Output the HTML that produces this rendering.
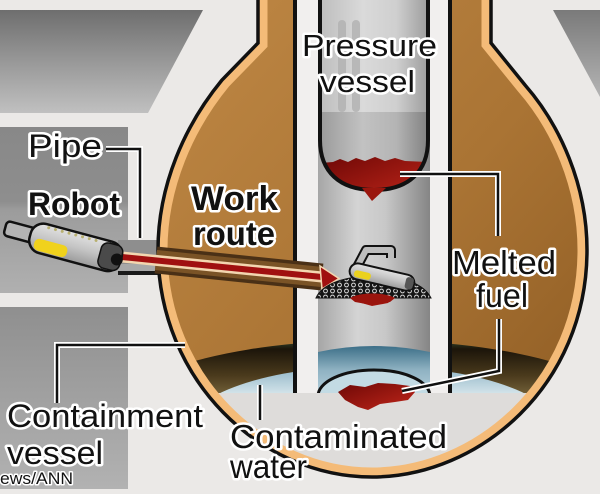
<!DOCTYPE html>
<html><head><meta charset="utf-8">
<style>
html,body{margin:0;padding:0;background:#ebe9e7;width:600px;height:494px;overflow:hidden;}
svg{display:block;}
text{font-family:"Liberation Sans",Arial,sans-serif;fill:#111;stroke:#fff;stroke-width:5;paint-order:stroke;stroke-linejoin:round;}
</style></head><body>
<svg width="600" height="494" viewBox="0 0 600 494" xmlns="http://www.w3.org/2000/svg">
<defs>
 <linearGradient id="gTop" x1="0" y1="0" x2="0" y2="1">
  <stop offset="0" stop-color="#6e6e6e"/><stop offset="0.5" stop-color="#989898"/><stop offset="1" stop-color="#c0c0c0"/>
 </linearGradient>
 <linearGradient id="gMid" x1="0" y1="0" x2="0" y2="1">
  <stop offset="0" stop-color="#888"/><stop offset="0.45" stop-color="#8e8e8e"/><stop offset="0.5" stop-color="#9c9c9c"/><stop offset="1" stop-color="#b0b0b0"/>
 </linearGradient>
 <linearGradient id="gBot" x1="0" y1="0" x2="0" y2="1">
  <stop offset="0" stop-color="#8f8f8f"/><stop offset="1" stop-color="#b2b2b2"/>
 </linearGradient>
 <linearGradient id="gTR" x1="0" y1="0" x2="0" y2="1">
  <stop offset="0" stop-color="#7a7a7a"/><stop offset="1" stop-color="#b4b4b4"/>
 </linearGradient>
 <linearGradient id="gBrown" x1="0" y1="0" x2="1" y2="1">
  <stop offset="0" stop-color="#c08946"/><stop offset="0.55" stop-color="#aa7434"/><stop offset="1" stop-color="#8c5a22"/>
 </linearGradient>
 <linearGradient id="gDark" x1="0" y1="338" x2="0" y2="400" gradientUnits="userSpaceOnUse">
  <stop offset="0" stop-color="#3a5233"/><stop offset="0.18" stop-color="#1c150a"/><stop offset="0.6" stop-color="#4a3a1c"/><stop offset="1" stop-color="#7d6a40"/>
 </linearGradient>
 <linearGradient id="gBlue" x1="0" y1="366" x2="0" y2="394" gradientUnits="userSpaceOnUse">
  <stop offset="0" stop-color="#8db3c5"/><stop offset="1" stop-color="#d4e4ea"/>
 </linearGradient>
 <linearGradient id="gCol" x1="318" y1="0" x2="430" y2="0" gradientUnits="userSpaceOnUse">
  <stop offset="0" stop-color="#a6a6a6"/><stop offset="0.35" stop-color="#d4d4d4"/><stop offset="0.6" stop-color="#c8c8c8"/><stop offset="1" stop-color="#858585"/>
 </linearGradient>
 <linearGradient id="gCapTop" x1="318" y1="0" x2="430" y2="0" gradientUnits="userSpaceOnUse">
  <stop offset="0" stop-color="#bcbcbc"/><stop offset="0.4" stop-color="#dadada"/><stop offset="0.7" stop-color="#cfcfcf"/><stop offset="1" stop-color="#9a9a9a"/>
 </linearGradient>
 <linearGradient id="gCapBot" x1="318" y1="0" x2="430" y2="0" gradientUnits="userSpaceOnUse">
  <stop offset="0" stop-color="#999"/><stop offset="0.4" stop-color="#c2c2c2"/><stop offset="0.7" stop-color="#b4b4b4"/><stop offset="1" stop-color="#7e7e7e"/>
 </linearGradient>
 <linearGradient id="gColWater" x1="0" y1="346" x2="0" y2="394" gradientUnits="userSpaceOnUse">
  <stop offset="0" stop-color="#3c6f88"/><stop offset="0.5" stop-color="#8fb2c2"/><stop offset="1" stop-color="#b5cfda"/>
 </linearGradient>
 <linearGradient id="gFuel" x1="0" y1="0" x2="1" y2="1">
  <stop offset="0" stop-color="#6e0806"/><stop offset="1" stop-color="#c0261a"/>
 </linearGradient>
 <linearGradient id="gRobot" x1="0" y1="0" x2="0" y2="1">
  <stop offset="0" stop-color="#e2e2e2"/><stop offset="0.5" stop-color="#c4c4c4"/><stop offset="1" stop-color="#9a9a9a"/>
 </linearGradient>
 <clipPath id="bulbClip"><path d="M258,-20 L258,43 L222,80 C185,125 158,185 158,250 C158,380 260,477 372,477 C480,477 587,385 587,250 C587,185 560,125 525,85 L491,43 L491,-20 Z"/></clipPath>
 <clipPath id="capClip"><path d="M320,-5 V140 C320,172 340,190 374,190 C408,190 428,172 428,140 V-5 Z"/></clipPath>
 <pattern id="dots" width="7" height="6" patternUnits="userSpaceOnUse">
  <rect width="7" height="6" fill="#151515"/><circle cx="3.5" cy="3" r="1.9" fill="none" stroke="#d8d8d8" stroke-width="1"/>
 </pattern>
</defs>

<rect width="600" height="494" fill="#ebe9e7"/>
<!-- grey boxes -->
<polygon points="0,10 203,10 148,113 0,113" fill="url(#gTop)"/>
<rect x="0" y="127" width="128" height="166" fill="url(#gMid)"/>
<rect x="0" y="307" width="128" height="182" fill="url(#gBot)"/>
<polygon points="553,10 600,10 600,97" fill="url(#gTR)"/>

<!-- pipe -->
<rect x="118" y="240" width="44" height="35" fill="#8e8e8e"/>
<rect x="118" y="264" width="44" height="8" fill="#a8a8a8"/>
<rect x="118" y="271" width="44" height="4" fill="#1a1a1a"/>

<!-- bulb -->
<path d="M258,-20 L258,43 L222,80 C185,125 158,185 158,250 C158,380 260,477 372,477 C480,477 587,385 587,250 C587,185 560,125 525,85 L491,43 L491,-20 Z" fill="url(#gBrown)"/>
<g clip-path="url(#bulbClip)">
 <ellipse cx="372" cy="420" rx="262" ry="80" fill="url(#gDark)"/>
 <ellipse cx="372" cy="430" rx="186" ry="64" fill="url(#gBlue)"/>
</g>

<!-- pedestal column -->
<rect x="293" y="-5" width="159" height="398" fill="#f1efee"/>
<rect x="293" y="-5" width="4" height="398" fill="#111"/>
<rect x="448" y="-5" width="4" height="398" fill="#111"/>
<rect x="318" y="-5" width="112" height="398" fill="url(#gCol)"/>
<!-- column water -->
<path d="M318,352 Q374,340 430,352 L430,393 L318,393 Z" fill="url(#gColWater)"/>
<ellipse cx="374" cy="396" rx="56" ry="26" fill="#c3dbe4" stroke="#111" stroke-width="3"/>

<!-- floor -->
<g clip-path="url(#bulbClip)">
 <rect x="150" y="393" width="450" height="110" fill="#dedcda"/>
</g>
<path d="M338,392 L350,385 L365,387 L378,383 L395,384 L410,386 L415,392 L408,400 L395,402 L380,404 L368,410 L358,407 L345,400 Z" fill="url(#gFuel)"/>

<!-- pressure vessel capsule -->
<g clip-path="url(#capClip)">
 <rect x="318" y="-5" width="112" height="120" fill="url(#gCapTop)"/>
 <rect x="318" y="112" width="112" height="90" fill="url(#gCapBot)"/>
 <rect x="338" y="20" width="8" height="92" rx="4" fill="#b0b0b0" opacity="0.8"/>
 <rect x="352" y="20" width="8" height="92" rx="4" fill="#b0b0b0" opacity="0.8"/>
 <path d="M320,163 L333,162 L340,159 L348,162 L356,158 L365,161 L375,157 L385,161 L395,158 L405,161 L428,162 L428,200 L320,200 Z" fill="url(#gFuel)"/>
</g>
<path d="M320,-5 V140 C320,172 340,190 374,190 C408,190 428,172 428,140 V-5" fill="none" stroke="#111" stroke-width="4"/>
<path d="M362,188 L386,188 L372,201 Z" fill="#9a160e"/>

<!-- bulb band & outline -->
<g clip-path="url(#bulbClip)">
 <path d="M258,-20 L258,43 L222,80 C185,125 158,185 158,250 C158,380 260,477 372,477 C480,477 587,385 587,250 C587,185 560,125 525,85 L491,43 L491,-20 Z" fill="none" stroke="#f4bb78" stroke-width="19"/>
</g>
<path d="M258,-20 L258,43 L222,80 C185,125 158,185 158,250 C158,380 260,477 372,477 C480,477 587,385 587,250 C587,185 560,125 525,85 L491,43 L491,-20" fill="none" stroke="#111" stroke-width="3.5"/>

<!-- work route -->
<line x1="156" y1="260" x2="322" y2="277" stroke="#4a3016" stroke-width="27"/>
<line x1="156" y1="260" x2="322" y2="277" stroke="#7a5326" stroke-width="20"/>
<line x1="122" y1="257" x2="322" y2="277" stroke="#f3d6b0" stroke-width="11"/>
<line x1="122" y1="257" x2="322" y2="277" stroke="#a01010" stroke-width="6"/>
<polygon points="320,266 339,278.5 322,289" fill="#a01010" stroke="#f3d6b0" stroke-width="1.5"/>

<!-- mound and robot on top -->
<path d="M348,293 L365,290 L385,292 L395,296 L388,303 L372,306 L358,302 Z" fill="#a0150e"/>
<path d="M316,298 C322,284 345,276 374,276 C403,276 424,284 431,298 Z" fill="url(#dots)" stroke="#111" stroke-width="1"/>
<path d="M350,298 C360,292 385,292 395,298 L390,302 L372,305 L355,302 Z" fill="#9a140d"/>
<polyline points="357,267 366,250 391,250 391,258" fill="none" stroke="#111" stroke-width="10" stroke-linejoin="round"/>
<polyline points="357,267 366,250 391,250 391,258" fill="none" stroke="#bdbdbd" stroke-width="6" stroke-linejoin="round"/>
<g transform="translate(382,277) rotate(13)">
 <rect x="-33" y="-8" width="66" height="16" rx="8" fill="url(#gRobot)" stroke="#111" stroke-width="2"/>
 <rect x="-28" y="-1" width="17" height="7" rx="3" fill="#ead11e"/>
 <rect x="24" y="-6" width="8" height="12" rx="3" fill="#555"/>
</g>

<!-- left robot -->
<g transform="translate(63,244) rotate(15)">
 <rect x="-60" y="-8" width="40" height="15" rx="4" fill="#b4b4b4" stroke="#111" stroke-width="2.5"/>
 <rect x="-34" y="-15" width="94" height="30" rx="13" fill="url(#gRobot)" stroke="#111" stroke-width="2.5"/>
 <rect x="-28" y="1" width="34" height="12" rx="5" fill="#f0d21c"/>
 <rect x="38" y="-13" width="22" height="26" rx="7" fill="#4a4a4a" stroke="#111" stroke-width="1.5"/>
 <circle cx="56" cy="1" r="6" fill="#111"/>
 <g fill="#b8b070">
  <circle cx="-18" cy="-12" r="1.5"/><circle cx="-11" cy="-12" r="1.5"/><circle cx="-4" cy="-12" r="1.5"/><circle cx="3" cy="-12" r="1.5"/><circle cx="10" cy="-12" r="1.5"/><circle cx="17" cy="-12" r="1.5"/><circle cx="24" cy="-12" r="1.5"/><circle cx="31" cy="-12" r="1.5"/>
 </g>
</g>

<!-- leader lines -->
<g fill="none" stroke-linejoin="miter">
 <g stroke="#fff" stroke-width="6">
  <polyline points="106,149 140,149 140,238"/>
  <polyline points="400,174 498,174 498,236"/>
  <polyline points="499,319 499,371 402,391"/>
  <polyline points="57,403 57,345 185,345"/>
  <polyline points="260,385 260,420"/>
 </g>
 <g stroke="#111" stroke-width="2.5">
  <polyline points="106,149 140,149 140,238"/>
  <polyline points="400,174 498,174 498,236"/>
  <polyline points="499,319 499,371 402,391"/>
  <polyline points="57,403 57,345 185,345"/>
  <polyline points="260,385 260,420"/>
 </g>
</g>

<!-- labels -->
<text x="302" y="56" font-size="31" textLength="135" lengthAdjust="spacingAndGlyphs">Pressure</text>
<text x="320" y="92" font-size="31" textLength="95" lengthAdjust="spacingAndGlyphs">vessel</text>
<text x="28" y="157" font-size="32" textLength="74" lengthAdjust="spacingAndGlyphs">Pipe</text>
<text x="28" y="215" font-size="32" font-weight="bold" textLength="92" lengthAdjust="spacingAndGlyphs">Robot</text>
<text x="191" y="210" font-size="34" font-weight="bold" textLength="87" lengthAdjust="spacingAndGlyphs">Work</text>
<text x="193" y="245" font-size="33" font-weight="bold" textLength="82" lengthAdjust="spacingAndGlyphs">route</text>
<text x="452" y="274" font-size="33" textLength="104" lengthAdjust="spacingAndGlyphs">Melted</text>
<text x="476" y="307" font-size="33" textLength="52" lengthAdjust="spacingAndGlyphs">fuel</text>
<text x="7" y="427" font-size="32" textLength="196" lengthAdjust="spacingAndGlyphs">Containment</text>
<text x="7" y="464" font-size="32" textLength="96" lengthAdjust="spacingAndGlyphs">vessel</text>
<text x="230" y="448" font-size="33" textLength="217" lengthAdjust="spacingAndGlyphs">Contaminated</text>
<text x="230" y="478" font-size="33" textLength="77" lengthAdjust="spacingAndGlyphs">water</text>
<text x="0" y="484" font-size="17" textLength="73" lengthAdjust="spacingAndGlyphs" style="stroke-width:3">ews/ANN</text>
</svg>
</body></html>
